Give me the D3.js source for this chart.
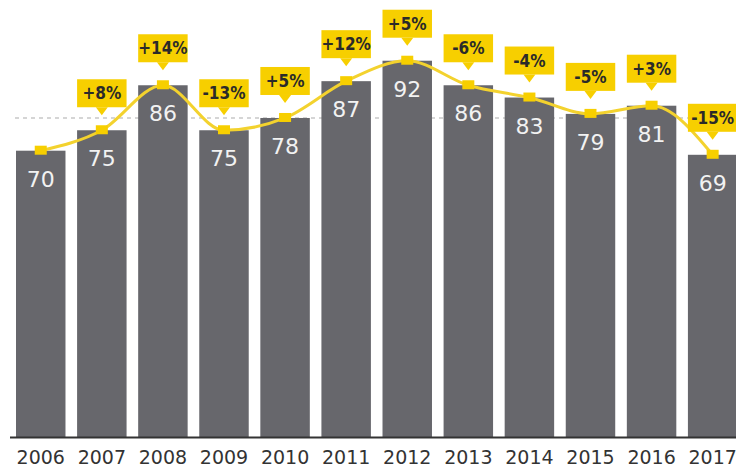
<!DOCTYPE html>
<html>
<head>
<meta charset="utf-8">
<script src="https://cdn.jsdelivr.net/npm/d3@7"></script>
<style>
  body { margin: 0; background: #fff; }
</style>
</head>
<body>
<svg id="chart"></svg>
<script>
// chart data
const years = ["2006", "2007", "2008", "2009", "2010", "2011", "2012", "2013", "2014", "2015", "2016", "2017"];
const values = [70, 75, 86, 75, 78, 87, 92, 86, 83, 79, 81, 69];
const changes = [null, "+8%", "+14%", "-13%", "+5%", "+12%", "+5%", "-6%", "-4%", "-5%", "+3%", "-15%"];
const refLine = [78];

const W = 736, H = 472;
const barColor = "#67676c";
const yellow = "#f7cf00";

const svg = d3.select("#chart")
    .attr("width", W)
    .attr("height", H);

// scales
const x = d3.scaleBand()
    .domain(years)
    .range([4.4, 749])
    .paddingInner(0.19)
    .paddingOuter(0.19);

const y = d3.scaleLinear()
    .domain([0, 100])
    .range([437, 28]);

// dotted reference line (behind bars)
svg.append("g")
    .selectAll("line")
    .data(refLine)
    .join("line")
    .attr("x1", 15)
    .attr("x2", W)
    .attr("y1", d => y(d))
    .attr("y2", d => y(d))
    .attr("stroke", "#c8c8c8")
    .attr("stroke-width", 1.5)
    .attr("stroke-dasharray", "4,4");

// bars
svg.append("g")
    .selectAll("rect")
    .data(values)
    .join("rect")
    .attr("x", (d, i) => x(years[i]))
    .attr("y", d => y(d))
    .attr("width", x.bandwidth())
    .attr("height", d => y(0) - y(d))
    .attr("fill", barColor);

// value labels inside bars
svg.append("g")
    .selectAll("text")
    .data(values)
    .join("text")
    .attr("x", (d, i) => x(years[i]) + x.bandwidth() / 2)
    .attr("y", d => y(d) + 36)
    .attr("text-anchor", "middle")
    .attr("font-family", "DejaVu Sans, Verdana, sans-serif")
    .attr("font-size", "22px")
    .attr("fill", "#f2f2f2")
    .text(d => d);

// x axis
const xAxis = d3.axisBottom(x).tickSize(0).tickPadding(14);
const gx = svg.append("g")
    .attr("transform", `translate(0, ${y(0)})`)
    .call(xAxis);
gx.select(".domain")
    .attr("d", `M10,0.5H${W}`)
    .attr("stroke", "#333")
    .attr("stroke-width", 2);
gx.selectAll("text")
    .attr("font-family", "DejaVu Sans, Verdana, sans-serif")
    .attr("font-size", "19px")
    .attr("fill", "#333");

// yellow line through bar tops
const line = d3.line()
    .x((d, i) => x(years[i]) + x.bandwidth() / 2)
    .y(d => y(d))
    .curve(d3.curveMonotoneX);

svg.append("path")
    .attr("d", line(values))
    .attr("fill", "none")
    .attr("stroke", "#f3d22e")
    .attr("stroke-width", 3);

// square markers
svg.append("g")
    .selectAll("rect")
    .data(values)
    .join("rect")
    .attr("x", (d, i) => x(years[i]) + x.bandwidth() / 2 - 6)
    .attr("y", d => y(d) - 5)
    .attr("width", 12)
    .attr("height", 9)
    .attr("fill", yellow);

// change callouts
const calls = svg.append("g")
    .selectAll("g")
    .data(values.map((v, i) => ({ year: years[i], v: v, c: changes[i] })).filter(d => d.c))
    .join("g")
    .attr("transform", d => `translate(${x(d.year)}, ${y(d.v) - 23})`);

calls.append("rect")
    .attr("x", 0)
    .attr("y", -28)
    .attr("width", x.bandwidth())
    .attr("height", 28)
    .attr("fill", yellow);

calls.append("path")
    .attr("d", `M${x.bandwidth() / 2 - 6},0 L${x.bandwidth() / 2 + 6},0 L${x.bandwidth() / 2},8 Z`)
    .attr("fill", yellow);

calls.append("text")
    .attr("x", x.bandwidth() / 2)
    .attr("y", -8)
    .attr("text-anchor", "middle")
    .attr("font-family", "DejaVu Sans Condensed, DejaVu Sans, sans-serif")
    .attr("font-weight", "bold")
    .attr("font-size", "17px")
    .attr("fill", "#2a2a2a")
    .text(d => d.c);
</script>
</body>
</html>
